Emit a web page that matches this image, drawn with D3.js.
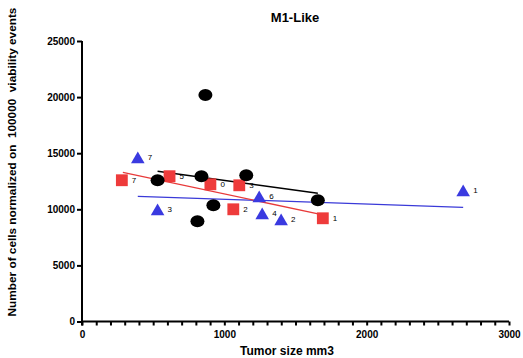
<!DOCTYPE html>
<html><head><meta charset="utf-8">
<script src="https://cdn.jsdelivr.net/npm/d3@7"></script>
<style>body{margin:0;background:#fff}svg{display:block}text{font-family:"Liberation Sans",Arial,sans-serif}</style>
</head><body><div id="chart"></div>
<script>
// Data
const blackX = [531, 839, 867, 923, 811, 1154, 1657];
const blackY = [12590, 12950, 20180, 10360, 8930, 13040, 10800];
const redX = [280, 615, 902, 1105, 1063, 1692];
const redY = [12590, 12950, 12230, 12140, 10000, 9200];
const redLabels = ["7", "5", "0", "3", "2", "1"];
const blueX = [392, 531, 1245, 1266, 1399, 2678];
const blueY = [14460, 9820, 10980, 9460, 8930, 11520];
const blueLabels = ["7", "3", "6", "4", "2", "1"];
// Fitted line endpoints [x, y]
const blackFit = [[531, 13390], [1657, 11430]];
const redFit = [[287, 13300], [1692, 9500]];
const blueFit = [[392, 11160], [2678, 10180]];
const xTicks = [0, 1000, 2000, 3000];
const yTicks = [0, 5000, 10000, 15000, 20000, 25000];

const W = 523, H = 358;
const svg = d3.select("#chart").append("svg").attr("width", W).attr("height", H);
const x = d3.scaleLinear().domain([0, 3000]).range([82, 509]);
const y = d3.scaleLinear().domain([0, 25000]).range([321.5, 41]);

// axes
const xAxis = d3.axisBottom(x).tickValues(d3.range(0, 3001, 100)).tickSize(4)
  .tickFormat(d => xTicks.includes(d) ? d : "");
const gx = svg.append("g").attr("transform", `translate(0,${y(0)})`).call(xAxis);
gx.select(".domain").attr("stroke-width", 2).attr("d", `M${x(0)},0H${x(3000)}`);
gx.selectAll(".tick line").attr("stroke-width", 2);
gx.selectAll(".tick text").attr("font-size", 10).attr("font-weight", "bold").attr("dy", "0.9em");

const yAxis = d3.axisLeft(y).tickValues(yTicks).tickSize(5).tickFormat(d3.format("d"));
const gy = svg.append("g").attr("transform", `translate(${x(0)},0)`).call(yAxis);
gy.select(".domain").attr("stroke-width", 2).attr("d", `M0,${y(25000)}V${y(0) + 4}`);
gy.selectAll(".tick line").attr("stroke-width", 2);
gy.selectAll(".tick text").attr("font-size", 10).attr("font-weight", "bold").attr("x", -7);

// titles
svg.append("text").attr("x", 295).attr("y", 22).attr("text-anchor", "middle")
  .attr("font-size", 13).attr("font-weight", "bold").text("M1-Like");
svg.append("text").attr("x", 287).attr("y", 355).attr("text-anchor", "middle")
  .attr("font-size", 12).attr("font-weight", "bold").text("Tumor size mm3");
svg.append("text").attr("transform", "translate(16,162) rotate(-90)").attr("text-anchor", "middle")
  .attr("font-size", 11.8).attr("font-weight", "bold").attr("xml:space", "preserve")
  .text("Number of cells normalized on  100000  viability events");

const line = d3.line().x(d => x(d[0])).y(d => y(d[1]));
svg.append("path").attr("d", line(blueFit)).attr("stroke", "#3a3ad8").attr("stroke-width", 1.3).attr("fill", "none");
svg.append("path").attr("d", line(redFit)).attr("stroke", "#e83a3a").attr("stroke-width", 1.3).attr("fill", "none");
svg.append("path").attr("d", line(blackFit)).attr("stroke", "#000").attr("stroke-width", 1.6).attr("fill", "none");

const sym = (type, size) => d3.symbol().type(type).size(size);
// red squares
svg.append("g").selectAll("path").data(redX).join("path")
  .attr("transform", (d, i) => `translate(${x(d)},${y(redY[i])})`)
  .attr("d", sym(d3.symbolSquare, 140)()).attr("fill", "#ee3b3b");
svg.append("g").selectAll("text").data(redX).join("text")
  .attr("x", d => x(d) + 10).attr("y", (d, i) => y(redY[i]) + 3)
  .attr("font-size", 8).text((d, i) => redLabels[i]);
// blue triangles
svg.append("g").selectAll("path").data(blueX).join("path")
  .attr("transform", (d, i) => `translate(${x(d)},${y(blueY[i])})`)
  .attr("d", sym(d3.symbolTriangle, 80)()).attr("fill", "#3a3ae0");
svg.append("g").selectAll("text").data(blueX).join("text")
  .attr("x", d => x(d) + 10).attr("y", (d, i) => y(blueY[i]) + 1)
  .attr("font-size", 8).text((d, i) => blueLabels[i]);
// black circles
svg.append("g").selectAll("ellipse").data(blackX).join("ellipse")
  .attr("cx", d => x(d)).attr("cy", (d, i) => y(blackY[i]))
  .attr("rx", 7).attr("ry", 6).attr("fill", "#000");
</script></body></html>
